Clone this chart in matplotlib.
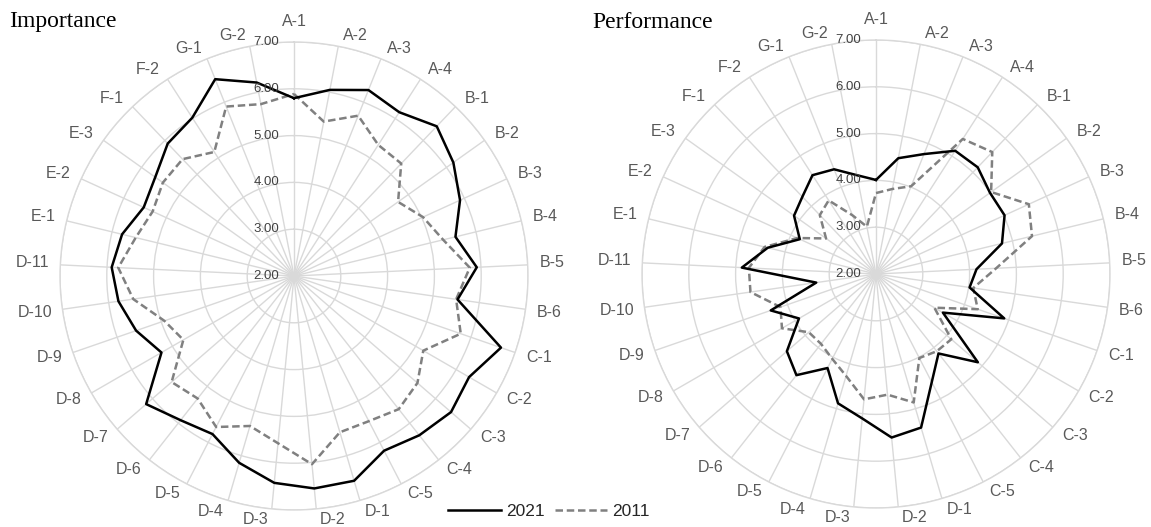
import numpy as np
import matplotlib
matplotlib.use('Agg')
import matplotlib.pyplot as plt
from matplotlib.transforms import offset_copy
from matplotlib.lines import Line2D

# ---------------- data ----------------
categories = ['A-1', 'A-2', 'A-3', 'A-4',
              'B-1', 'B-2', 'B-3', 'B-4', 'B-5', 'B-6',
              'C-1', 'C-2', 'C-3', 'C-4', 'C-5',
              'D-1', 'D-2', 'D-3', 'D-4', 'D-5', 'D-6', 'D-7', 'D-8', 'D-9', 'D-10', 'D-11',
              'E-1', 'E-2', 'E-3', 'F-1', 'F-2', 'G-1', 'G-2']

importance_2021 = [5.80, 6.05, 6.28, 6.16, 6.42, 6.18, 5.90, 5.55, 5.91, 5.53,
                   6.68, 6.32, 6.44, 6.33, 6.20,
                   6.56, 6.56, 6.44, 6.16, 5.80, 5.92, 6.18, 5.27, 5.57, 5.79, 5.90,
                   5.78, 5.53, 5.64, 5.91, 6.02, 6.53, 6.21]
importance_2011 = [5.89, 5.36, 5.69, 5.33, 5.32, 4.73, 5.03, 5.28, 5.76, 5.50,
                   5.77, 5.19, 5.49, 5.62, 5.49,
                   5.48, 6.04, 5.59, 5.34, 5.63, 5.33, 5.46, 4.73, 4.93, 5.47, 5.76,
                   5.48, 5.32, 5.44, 5.45, 5.15, 5.90, 5.74]

performance_2021 = [4.01, 4.52, 4.76, 5.13, 5.15, 4.99, 5.02, 4.77, 4.15, 4.02,
                    4.90, 3.65, 4.88, 4.16, 4.60,
                    5.42, 5.51, 5.10, 4.88, 4.26, 4.75, 4.52, 3.90, 4.38, 3.29, 4.87,
                    4.38, 3.79, 4.15, 4.28, 4.51, 4.41, 4.15]
performance_2011 = [3.73, 3.85, 4.02, 5.43, 5.60, 5.02, 5.59, 5.43, 4.57, 4.10,
                    4.30, 3.44, 4.13, 4.10, 4.02,
                    4.86, 4.59, 4.69, 4.27, 4.04, 3.90, 3.90, 4.32, 4.16, 4.71, 4.72,
                    4.45, 3.85, 3.31, 3.74, 3.87, 3.35, 3.03]

r_ticks = [2, 3, 4, 5, 6, 7]
r_tick_labels = ['2.00', '3.00', '4.00', '5.00', '6.00', '7.00']
series_labels = ['2021', '2011']
titles = ['Importance', 'Performance']

# ---------------- figure ----------------
W, H = 1151, 527
fig = plt.figure(figsize=(W / 100, H / 100), dpi=100)

GRID = '#d9d9d9'
LABEL = '#595959'
SANS = ['Liberation Sans', 'DejaVu Sans']
SERIF = ['Liberation Serif', 'DejaVu Serif']
LW = 1.8
DASH = (0, (3.0, 1.5))

n = len(categories)
theta = np.arange(n) * 2 * np.pi / n
theta_c = np.append(theta, theta[0])


def radar(cx, cy, R, v2021, v2011):
    ax = fig.add_axes([(cx - R) / W, (H - cy - R) / H, 2 * R / W, 2 * R / H],
                      projection='polar')
    ax.set_theta_zero_location('N')
    ax.set_theta_direction(-1)
    ax.set_ylim(r_ticks[0], r_ticks[-1])
    ax.set_yticks(r_ticks[1:])
    ax.set_yticklabels([])
    ax.set_xticks(theta)
    ax.set_xticklabels([])
    ax.tick_params(length=0)
    ax.grid(True, color=GRID, lw=1.0)
    ax.spines['polar'].set_color(GRID)
    ax.spines['polar'].set_linewidth(1.0)
    ax.set_facecolor('none')

    ax.plot(theta_c, np.append(v2011, v2011[0]), color='#808080', lw=LW,
            linestyle=DASH, zorder=3)
    ax.plot(theta_c, np.append(v2021, v2021[0]), color='black', lw=LW, zorder=4)

    # category labels, placed around the outer ring (pixel offsets)
    g, hh = 9.0, 2.0
    for t, c in zip(theta, categories):
        sx, sy = np.sin(t), np.cos(t)
        hw = 15.0 if len(c) <= 3 else 18.5
        if abs(sx) < 1e-6:
            dx, dy = 0.0, (R + 20.0) * np.sign(sy)
        else:
            dx = (R + g) * sx + np.sign(sx) * hw
            dy = (R + g) * sy + np.sign(sy) * hh
        fig.text((cx + dx) / W, 1 - (cy - dy) / H, c, ha='center', va='center',
                 fontsize=11.5, color=LABEL, family=SANS)

    tr = offset_copy(ax.transData, fig=fig, x=-15, y=0, units='dots')
    for r, s in zip(r_ticks, r_tick_labels):
        ax.text(0, r, s, transform=tr, ha='right', va='center',
                fontsize=9.5, color='#404040', family=SANS, zorder=5)
    return ax


radar(294, 276, 234, importance_2021, importance_2011)
radar(876, 274, 234, performance_2021, performance_2011)

fig.text(9 / W, 1 - 22 / H, titles[0], family=SERIF, fontsize=17,
         ha='left', va='center', color='black')
fig.text(592 / W, 1 - 22 / H, titles[1], family=SERIF, fontsize=17,
         ha='left', va='center', color='black')

handles = [Line2D([], [], color='black', lw=LW),
           Line2D([], [], color='#808080', lw=LW, linestyle=DASH)]
leg = fig.legend(handles, series_labels, loc='center', ncol=2,
                 bbox_to_anchor=(549 / W, 1 - 511 / H), frameon=False,
                 prop={'family': SANS, 'size': 12.5}, handlelength=3.0,
                 handletextpad=0.3, columnspacing=0.6, borderpad=0)
for t in leg.get_texts():
    t.set_color('#262626')

fig.savefig('out.png', dpi=100)
